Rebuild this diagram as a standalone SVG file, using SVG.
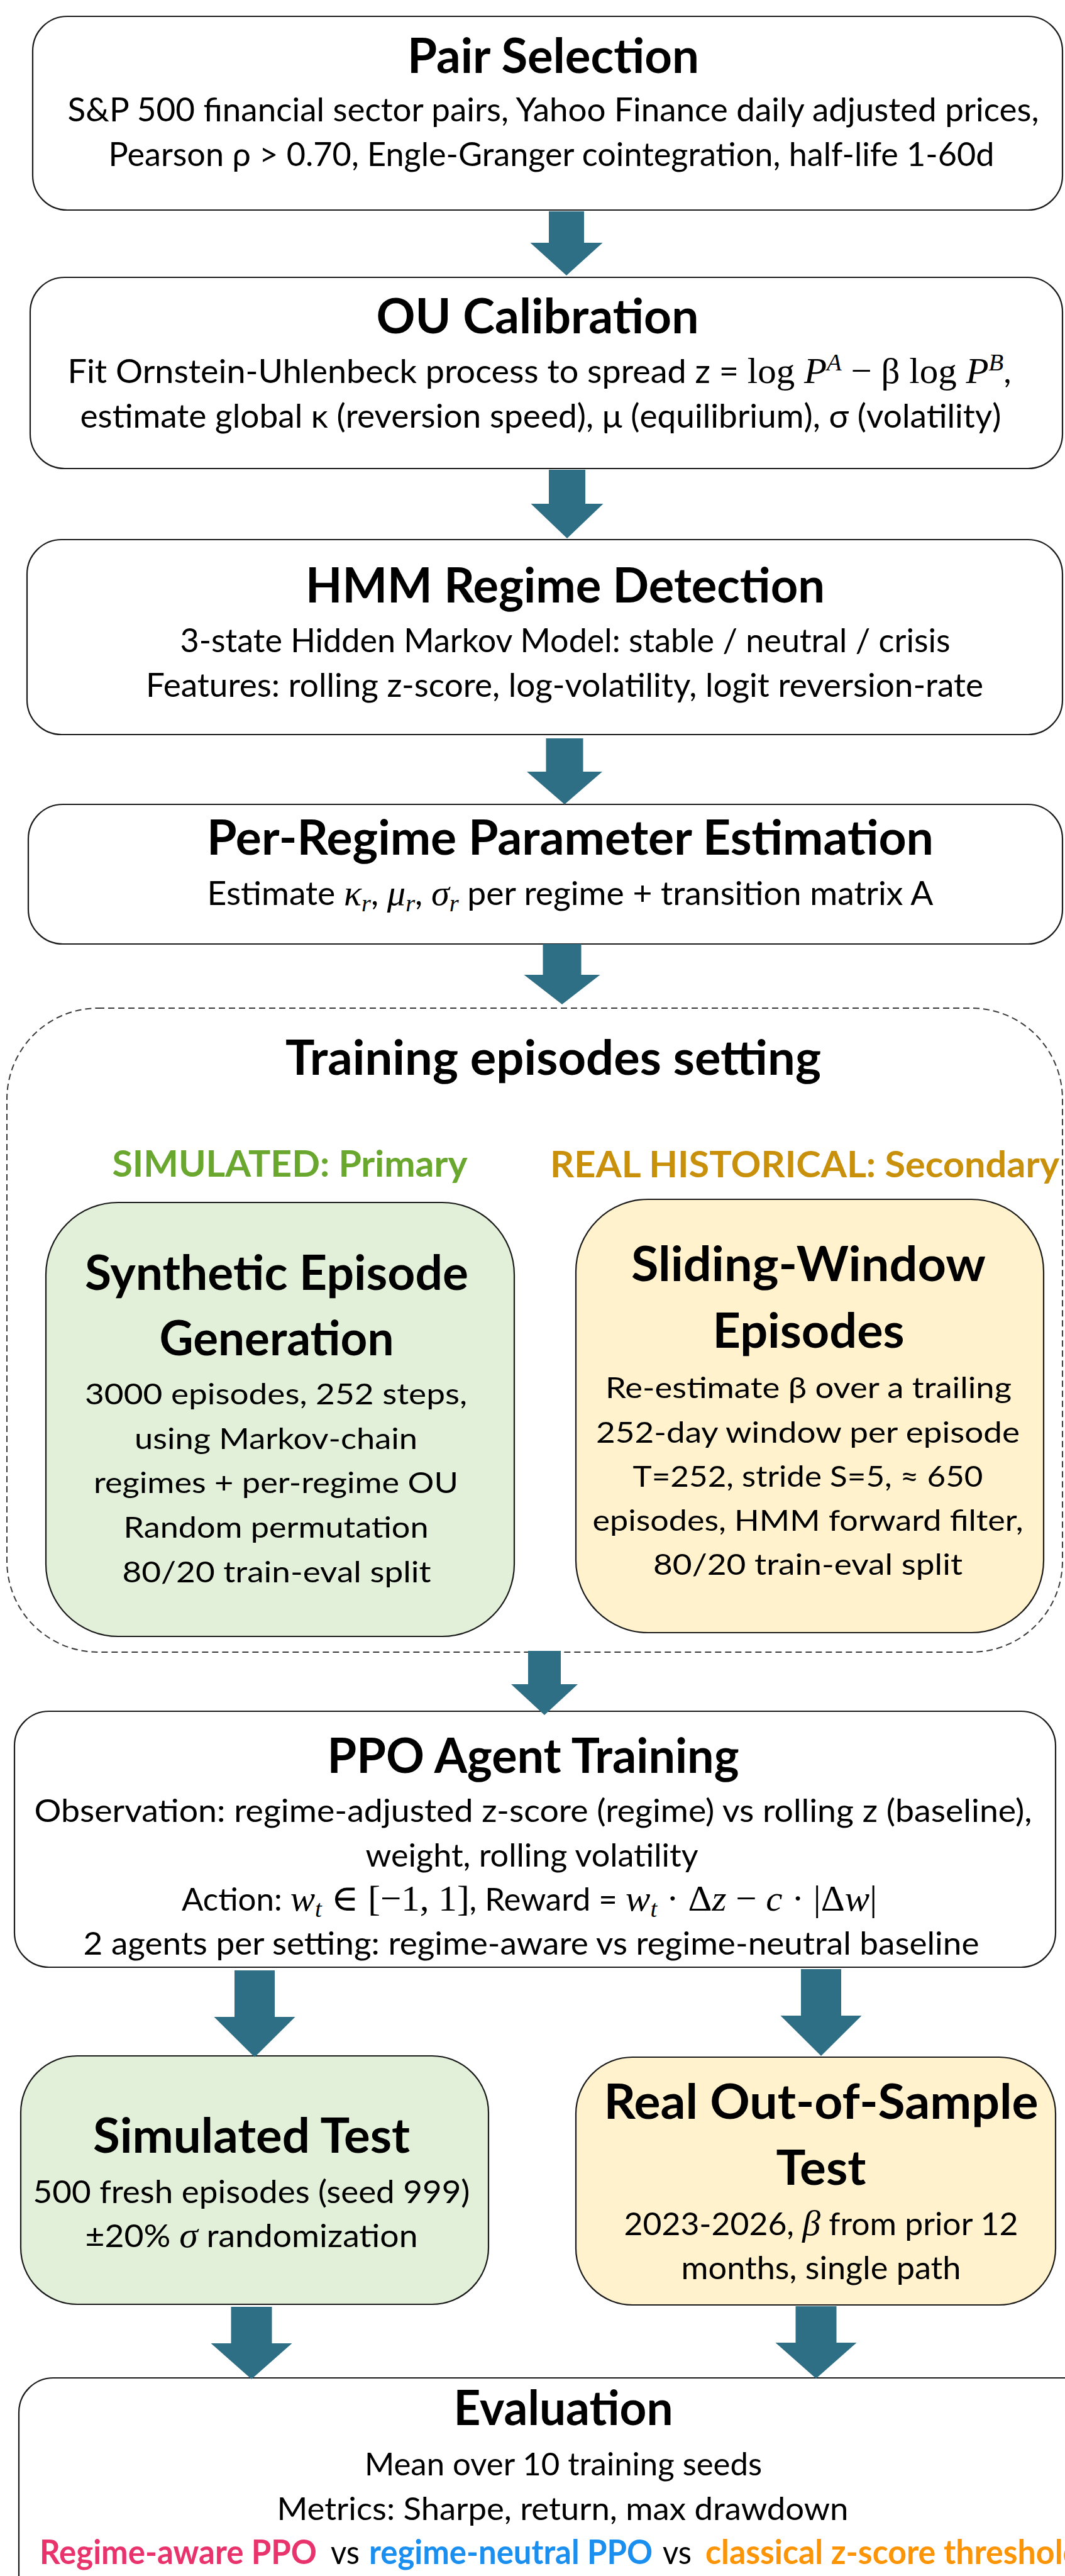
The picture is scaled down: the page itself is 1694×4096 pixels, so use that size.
<svg xmlns="http://www.w3.org/2000/svg" width="1694" height="4096" viewBox="0 0 1694 4096">
<style>
.box{fill:#ffffff;stroke:#1a1a1a;stroke-width:2.2}
.green{fill:#e2f0d9;stroke:#1a1a1a;stroke-width:2.2}
.gold{fill:#fff2cc;stroke:#1a1a1a;stroke-width:2.2}
.dash{fill:none;stroke:#3a3a3a;stroke-width:2;stroke-dasharray:10 6}
.t{font-family:Lato,'Open Sans',sans-serif;font-weight:700;font-size:76px;fill:#000;text-anchor:middle}
.b{font-family:Lato,'Open Sans',sans-serif;font-size:53px;fill:#000;text-anchor:middle}
.b2{font-family:Lato,'Open Sans',sans-serif;font-size:46px;fill:#000;text-anchor:middle}
.b3{font-family:Lato,'Open Sans',sans-serif;font-size:50px;fill:#000;text-anchor:middle}
.lab{font-family:Lato,'Open Sans',sans-serif;font-weight:700;font-size:58px;text-anchor:middle}
.cl{font-family:Lato,'Open Sans',sans-serif;font-size:53px}
.m{font-family:'Liberation Serif','DejaVu Serif',serif}
.mi{font-family:'Liberation Serif','DejaVu Serif',serif;font-style:italic}
.arr{fill:#2e6f86}
</style>
<rect width="1694" height="4096" fill="#ffffff"/>
<g id="nodes">
<g id="pair-selection">
<rect class="box" x="52" y="26" width="1638" height="308" rx="55"/>
<text class="t" x="880" y="116" textLength="464" lengthAdjust="spacingAndGlyphs">Pair Selection</text>
<text class="b" x="880" y="193" textLength="1545" lengthAdjust="spacingAndGlyphs">S&amp;P 500 financial sector pairs, Yahoo Finance daily adjusted prices,</text>
<text class="b" x="877" y="264" textLength="1409" lengthAdjust="spacingAndGlyphs">Pearson ρ &gt; 0.70, Engle-Granger cointegration, half-life 1-60d</text>
</g>
<g id="ou-calibration">
<rect class="box" x="48" y="441" width="1642" height="304" rx="55"/>
<text class="t" x="855" y="530" textLength="513" lengthAdjust="spacingAndGlyphs">OU Calibration</text>
<text class="b" x="858" y="609" textLength="1501" lengthAdjust="spacingAndGlyphs">Fit Ornstein-Uhlenbeck process to spread z = <tspan class="m" font-size="58">log </tspan><tspan class="mi" font-size="58">P</tspan><tspan class="mi" dy="-20" font-size="38">A</tspan><tspan class="m" dy="20" font-size="58"> − β log </tspan><tspan class="mi" font-size="58">P</tspan><tspan class="mi" dy="-20" font-size="38">B</tspan><tspan dy="20">,</tspan></text>
<text class="b" x="860" y="680" textLength="1465" lengthAdjust="spacingAndGlyphs">estimate global κ (reversion speed), μ (equilibrium), σ (volatility)</text>
</g>
<g id="hmm-regime">
<rect class="box" x="43" y="858" width="1647" height="310" rx="55"/>
<text class="t" x="899" y="958" textLength="826" lengthAdjust="spacingAndGlyphs">HMM Regime Detection</text>
<text class="b" x="899" y="1037" textLength="1225" lengthAdjust="spacingAndGlyphs">3-state Hidden Markov Model: stable / neutral / crisis</text>
<text class="b" x="898" y="1108" textLength="1332" lengthAdjust="spacingAndGlyphs">Features: rolling z-score, log-volatility, logit reversion-rate</text>
</g>
<g id="per-regime">
<rect class="box" x="45" y="1279" width="1645" height="222" rx="55"/>
<text class="t" x="907" y="1359" textLength="1156" lengthAdjust="spacingAndGlyphs">Per-Regime Parameter Estimation</text>
<text class="b" x="907" y="1439" textLength="1155" lengthAdjust="spacingAndGlyphs">Estimate <tspan class="mi" font-size="58">κ</tspan><tspan class="mi" dy="10" font-size="38">r</tspan><tspan dy="-10">, </tspan><tspan class="mi" font-size="58">μ</tspan><tspan class="mi" dy="10" font-size="38">r</tspan><tspan dy="-10">, </tspan><tspan class="mi" font-size="58">σ</tspan><tspan class="mi" dy="10" font-size="38">r</tspan><tspan dy="-10"> per regime + transition matrix A</tspan></text>
</g>
<g id="training-episodes">
<rect class="dash" x="11" y="1603" width="1679" height="1024" rx="145"/>
<text class="t" x="880" y="1709" textLength="852" lengthAdjust="spacingAndGlyphs">Training episodes setting</text>
<text class="lab" x="461" y="1871" fill="#6aa72f" textLength="565" lengthAdjust="spacingAndGlyphs">SIMULATED: Primary</text>
<text class="lab" x="1280" y="1872" fill="#c9900c" textLength="810" lengthAdjust="spacingAndGlyphs">REAL HISTORICAL: Secondary</text>
</g>
<g id="synthetic-episode">
<rect class="green" x="73" y="1912" width="745" height="690" rx="115"/>
<text class="t" x="440" y="2051" textLength="610" lengthAdjust="spacingAndGlyphs">Synthetic Episode</text>
<text class="t" x="440" y="2155" textLength="373" lengthAdjust="spacingAndGlyphs">Generation</text>
<text class="b2" x="439" y="2233" textLength="608" lengthAdjust="spacingAndGlyphs">3000 episodes, 252 steps,</text>
<text class="b2" x="439" y="2304" textLength="450" lengthAdjust="spacingAndGlyphs">using Markov-chain</text>
<text class="b2" x="439" y="2374" textLength="580" lengthAdjust="spacingAndGlyphs">regimes + per-regime OU</text>
<text class="b2" x="439" y="2445" textLength="485" lengthAdjust="spacingAndGlyphs">Random permutation</text>
<text class="b2" x="440" y="2516" textLength="491" lengthAdjust="spacingAndGlyphs">80/20 train-eval split</text>
</g>
<g id="sliding-window">
<rect class="gold" x="916" y="1907" width="744" height="689" rx="115"/>
<text class="t" x="1286" y="2037" textLength="564" lengthAdjust="spacingAndGlyphs">Sliding-Window</text>
<text class="t" x="1286" y="2143" textLength="305" lengthAdjust="spacingAndGlyphs">Episodes</text>
<text class="b2" x="1286" y="2223" textLength="646" lengthAdjust="spacingAndGlyphs">Re-estimate β over a trailing</text>
<text class="b2" x="1285" y="2294" textLength="674" lengthAdjust="spacingAndGlyphs">252-day window per episode</text>
<text class="b2" x="1285" y="2364" textLength="557" lengthAdjust="spacingAndGlyphs">T=252, stride S=5, ≈ 650</text>
<text class="b2" x="1285" y="2434" textLength="685" lengthAdjust="spacingAndGlyphs">episodes, HMM forward filter,</text>
<text class="b2" x="1285" y="2504" textLength="492" lengthAdjust="spacingAndGlyphs">80/20 train-eval split</text>
</g>
<g id="ppo-training">
<rect class="box" x="23" y="2721" width="1656" height="407" rx="55"/>
<text class="t" x="848" y="2819" textLength="655" lengthAdjust="spacingAndGlyphs">PPO Agent Training</text>
<text class="b3" x="848" y="2897" textLength="1587" lengthAdjust="spacingAndGlyphs">Observation: regime-adjusted z-score (regime) vs rolling z (baseline),</text>
<text class="b3" x="846" y="2968" textLength="529" lengthAdjust="spacingAndGlyphs">weight, rolling volatility</text>
<text class="b3" x="842" y="3038" textLength="1106" lengthAdjust="spacingAndGlyphs">Action: <tspan class="mi" font-size="58">w</tspan><tspan class="mi" dy="10" font-size="38">t</tspan><tspan class="m" dy="-10" font-size="58"> ∈ [−1, 1]</tspan>, Reward = <tspan class="mi" font-size="58">w</tspan><tspan class="mi" dy="10" font-size="38">t</tspan><tspan class="m" dy="-10" font-size="58"> · Δ</tspan><tspan class="mi" font-size="58">z</tspan><tspan class="m" font-size="58"> − </tspan><tspan class="mi" font-size="58">c</tspan><tspan class="m" font-size="58"> · |Δ</tspan><tspan class="mi" font-size="58">w</tspan><tspan class="m" font-size="58">|</tspan></text>
<text class="b3" x="845" y="3108" textLength="1425" lengthAdjust="spacingAndGlyphs">2 agents per setting: regime-aware vs regime-neutral baseline</text>
</g>
<g id="simulated-test">
<rect class="green" x="33" y="3269" width="744" height="395" rx="90"/>
<text class="t" x="400" y="3423" textLength="504" lengthAdjust="spacingAndGlyphs">Simulated Test</text>
<text class="b3" x="400" y="3503" textLength="695" lengthAdjust="spacingAndGlyphs">500 fresh episodes (seed 999)</text>
<text class="b3" x="400" y="3573" textLength="529" lengthAdjust="spacingAndGlyphs">±20% <tspan class="mi" font-size="56">σ</tspan> randomization</text>
</g>
<g id="real-oos-test">
<rect class="gold" x="916" y="3271" width="763" height="394" rx="90"/>
<text class="t" x="1306" y="3369" textLength="691" lengthAdjust="spacingAndGlyphs">Real Out-of-Sample</text>
<text class="t" x="1306" y="3474" textLength="143" lengthAdjust="spacingAndGlyphs">Test</text>
<text class="b3" x="1306" y="3554" textLength="627" lengthAdjust="spacingAndGlyphs">2023-2026, <tspan class="mi" font-size="56">β</tspan> from prior 12</text>
<text class="b3" x="1306" y="3624" textLength="445" lengthAdjust="spacingAndGlyphs">months, single path</text>
</g>
<g id="evaluation">
<rect class="box" x="30" y="3781" width="1760" height="420" rx="55"/>
<text class="t" x="896" y="3856" textLength="349" lengthAdjust="spacingAndGlyphs">Evaluation</text>
<text class="b3" x="896" y="3936" textLength="632" lengthAdjust="spacingAndGlyphs">Mean over 10 training seeds</text>
<text class="b3" x="895" y="4007" textLength="909" lengthAdjust="spacingAndGlyphs">Metrics: Sharpe, return, max drawdown</text>
<text class="cl" x="63" y="4077" font-weight="700" fill="#e8336d" textLength="441" lengthAdjust="spacingAndGlyphs">Regime-aware PPO</text>
<text class="cl" x="526" y="4077" fill="#000" textLength="46" lengthAdjust="spacingAndGlyphs">vs</text>
<text class="cl" x="587" y="4077" font-weight="700" fill="#1a8ff0" textLength="451" lengthAdjust="spacingAndGlyphs">regime-neutral PPO</text>
<text class="cl" x="1054" y="4077" fill="#000" textLength="46" lengthAdjust="spacingAndGlyphs">vs</text>
<text class="cl" x="1122" y="4077" font-weight="700" fill="#fb9406" textLength="598" lengthAdjust="spacingAndGlyphs">classical z-score threshold</text>
</g>
</g>
<g id="connectors">
<polygon class="arr" points="873,336 929,336 929,386 958.5,386 901,438 843.5,386 873,386"/>
<polygon class="arr" points="873,747 931,747 931,801 959.5,801 902,856 844.5,801 873,801"/>
<polygon class="arr" points="868.5,1174 927.5,1174 927.5,1227 958,1227 898,1279 838,1227 868.5,1227"/>
<polygon class="arr" points="863.5,1501 924.5,1501 924.5,1550 954.5,1550 894,1597 833.5,1550 863.5,1550"/>
<polygon class="arr" points="840,2625 892,2625 892,2678 919,2678 866,2727 813,2678 840,2678"/>
<polygon class="arr" points="373,3133 437,3133 437,3207 469.5,3207 405,3271 340.5,3207 373,3207"/>
<polygon class="arr" points="1274,3131 1338,3131 1338,3205 1370.5,3205 1306,3269 1241.5,3205 1274,3205"/>
<polygon class="arr" points="367.5,3668 432.5,3668 432.5,3726 464.5,3726 400,3783 335.5,3726 367.5,3726"/>
<polygon class="arr" points="1265.5,3667 1330.5,3667 1330.5,3725 1362.5,3725 1298,3782 1233.5,3725 1265.5,3725"/>
</g>
</svg>
